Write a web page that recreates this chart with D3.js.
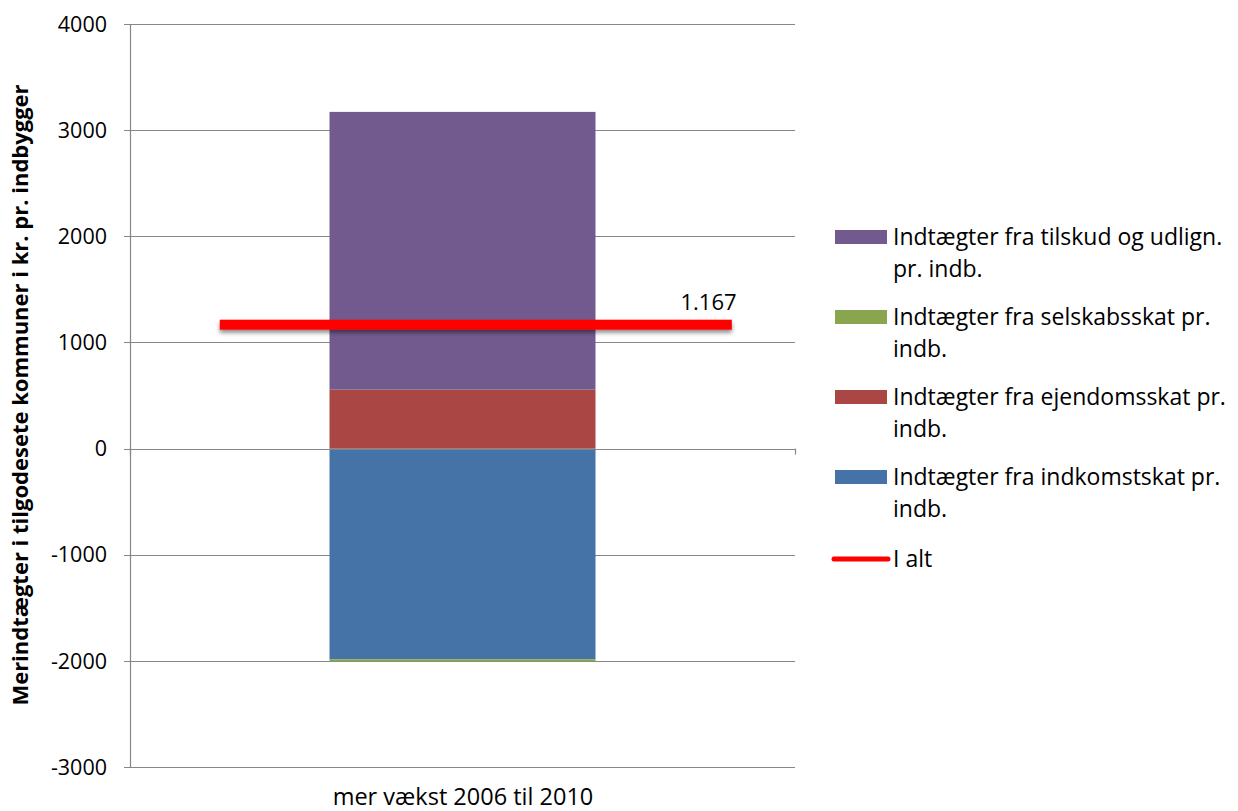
<!DOCTYPE html>
<html><head><meta charset="utf-8">
<script src="https://cdn.jsdelivr.net/npm/d3@7/dist/d3.min.js"></script>
<style>body{margin:0;background:#fff}svg{display:block;font-family:"Open Sans",sans-serif}</style>
</head><body>
<script>
const categories = ["mer vækst 2006 til 2010"];
const seriesNames = ["Indtægter fra tilskud og udlign. pr. indb.","Indtægter fra selskabsskat pr. indb.","Indtægter fra ejendomsskat pr. indb.","Indtægter fra indkomstskat pr. indb."];
const seriesColors = ["#725a8e","#89a54e","#aa4744","#4573a7"];
const indkomstskat = [-1985];
const ejendomsskat = [555];
const selskabsskat = [-20];
const tilskud = [2617];
const iAlt = [1167];
const iAltLabels = ["1.167"];
const yTicks = [-3000,-2000,-1000,0,1000,2000,3000,4000];

const W=1238,H=811;
const svg=d3.select("body").append("svg").attr("width",W).attr("height",H);
const m={l:130,r:795,t:24,b:767};
const x=d3.scaleBand().domain(categories).range([m.l,m.r]);
const y=d3.scaleLinear().domain([-3000,4000]).range([m.b,m.t]);

const defs=svg.append("defs");
const f=defs.append("filter").attr("id","sh").attr("filterUnits","userSpaceOnUse")
 .attr("x",0).attr("y",0).attr("width",W).attr("height",H);
f.append("feDropShadow").attr("dx",0).attr("dy",3).attr("stdDeviation",2).attr("flood-color","#000").attr("flood-opacity",0.45);

// gridlines
svg.selectAll("line.grid").data(yTicks).join("line").attr("class","grid")
 .attr("x1",m.l-6).attr("x2",m.r).attr("y1",d=>Math.round(y(d))+0.5).attr("y2",d=>Math.round(y(d))+0.5)
 .attr("stroke","#878787").attr("stroke-width",1.2);
svg.append("line").attr("x1",m.l+0.5).attr("x2",m.l+0.5).attr("y1",y(4000)).attr("y2",y(-3000)).attr("stroke","#878787").attr("stroke-width",1.2);
[m.l,m.r].forEach(px=>svg.append("line").attr("x1",px+0.5).attr("x2",px+0.5).attr("y1",y(0)).attr("y2",y(0)+6).attr("stroke","#878787").attr("stroke-width",1.2));

// tick labels
svg.selectAll("text.yt").data(yTicks).join("text").attr("class","yt")
 .attr("x",m.l-23).attr("y",d=>y(d)).attr("dy","0.36em").attr("text-anchor","end")
 .attr("font-size",21.5).attr("fill","#000").text(d=>d);

// stacked bars
const bw=x.bandwidth();
const barX=c=>x(c)+bw*0.3;
const barW=bw*0.4;
const layers=[
 {v:indkomstskat,c:seriesColors[3]},
 {v:ejendomsskat,c:seriesColors[2]},
 {v:selskabsskat,c:seriesColors[1]},
 {v:tilskud,c:seriesColors[0]}
];
categories.forEach((c,i)=>{
 let pos=0,neg=0;
 layers.forEach(L=>{
  const val=L.v[i];
  let y0,y1;
  if(val>=0){y0=pos;y1=pos+val;pos=y1;} else {y0=neg;y1=neg+val;neg=y1;}
  svg.append("rect").attr("x",barX(c)).attr("width",barW)
   .attr("y",y(Math.max(y0,y1))).attr("height",Math.abs(y(y0)-y(y1))).attr("fill",L.c);
 });
});
svg.append("line").attr("x1",m.l).attr("x2",m.r).attr("y1",Math.round(y(0))+0.5).attr("y2",Math.round(y(0))+0.5).attr("stroke","#878787").attr("stroke-width",1.2).attr("opacity",0.8);

// I alt line
categories.forEach((c,i)=>{
 svg.append("rect").attr("x",x(c)+bw*0.135).attr("width",bw*0.77)
  .attr("y",y(iAlt[i])-5).attr("height",10).attr("fill","#ff0000").attr("filter","url(#sh)");
 svg.append("text").attr("x",x(c)+bw*0.87).attr("y",y(iAlt[i])-15).attr("text-anchor","middle")
  .attr("font-size",22).attr("fill","#000").text(iAltLabels[i]);
});

// x label
svg.append("text").attr("x",463).attr("y",805).attr("text-anchor","middle").attr("font-size",23.5).text(categories[0]);

// y title
svg.append("text").attr("transform",`translate(28,395) rotate(-90)`).attr("text-anchor","middle")
 .attr("font-size",22).attr("font-weight","bold").text("Merindtægter i tilgodesete kommuner i kr. pr. indbygger");

// legend
const leg=[
 {lines:["Indtægter fra tilskud og udlign.","pr. indb."],c:seriesColors[0]},
 {lines:["Indtægter fra selskabsskat pr.","indb."],c:seriesColors[1]},
 {lines:["Indtægter fra ejendomsskat pr.","indb."],c:seriesColors[2]},
 {lines:["Indtægter fra indkomstskat pr.","indb."],c:seriesColors[3]}
];
leg.forEach((L,i)=>{
 const ty=237+i*80;
 svg.append("rect").attr("x",835).attr("y",ty-7).attr("width",52).attr("height",14).attr("fill",L.c);
 L.lines.forEach((t,j)=>svg.append("text").attr("x",893).attr("y",ty+j*31.5).attr("dy","0.36em").attr("font-size",23).text(t));
});
svg.append("line").attr("x1",834).attr("x2",888).attr("y1",559).attr("y2",559).attr("stroke","#ff0000").attr("stroke-width",5).attr("stroke-linecap","round");
svg.append("text").attr("x",893).attr("y",559).attr("dy","0.36em").attr("font-size",23).text("I alt");
</script>
</body></html>
